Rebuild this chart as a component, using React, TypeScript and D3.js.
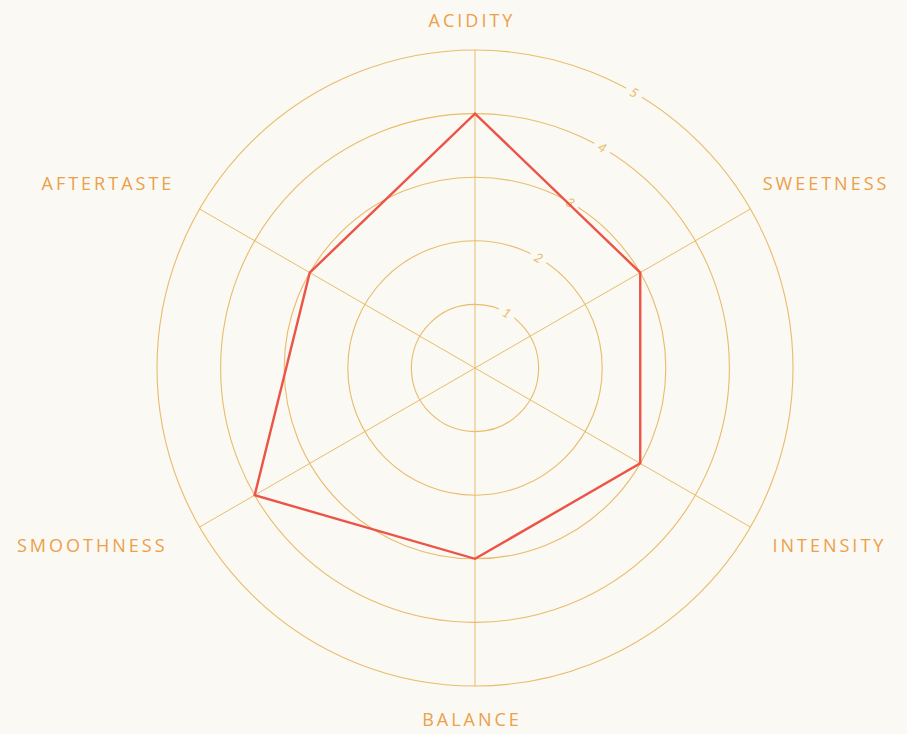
import React from "react";
import * as d3 from "d3";

const axes = ["ACIDITY", "SWEETNESS", "INTENSITY", "BALANCE", "SMOOTHNESS", "AFTERTASTE"];
const values = [4, 3, 3, 3, 4, 3];
const ticks = [1, 2, 3, 4, 5];

const W = 907, H = 734;
const cx = 475, cy = 368, R = 318;
const lineColor = "#E9BC6C";
const labelColor = "#EBA04A";
const dataColor = "#EC5448";
const bg = "#FBF9F3";

export default function App() {
  const r = d3.scaleLinear().domain([0, 5]).range([0, R]);
  const angle = d3.scaleLinear().domain([0, axes.length]).range([0, 2 * Math.PI]);
  const pt = (i: number, v: number): [number, number] => {
    const a = angle(i);
    return [cx + r(v) * Math.sin(a), cy - r(v) * Math.cos(a)];
  };
  const line = d3.line<number>().x((v, i) => pt(i, v)[0]).y((v, i) => pt(i, v)[1]).curve(d3.curveLinearClosed);
  const tickAngle = Math.PI / 6;
  const labelLayout = (i: number) => {
    const ang = angle(i);
    const top = Math.cos(ang) > 0;
    const lr = i === 0 ? 347 : i === 3 ? 352 : top ? 368 : 355;
    let x = cx + lr * Math.sin(ang);
    const y = cy - lr * Math.cos(ang);
    let anchor = "middle";
    if (i === 0 || i === 3) x -= 3;
    else if (Math.sin(ang) > 0) { anchor = "start"; x -= top ? 31 : 10; }
    else { anchor = "end"; x += top ? 18 : 0; }
    return { x, y, anchor };
  };
  return (
    <svg width={W} height={H} style={{ position: "absolute", left: 0, top: 0, background: bg }}>
      <rect width={W} height={H} fill={bg} />
      {ticks.map((t) => (
        <circle key={t} cx={cx} cy={cy} r={r(t)} fill="none" stroke={lineColor} strokeWidth={1.1} />
      ))}
      {axes.map((a, i) => {
        const [x1, y1] = pt(i, 5);
        const [x2, y2] = pt(i + 3, 5);
        return i < 3 ? <line key={a} x1={x1} y1={y1} x2={x2} y2={y2} stroke={lineColor} strokeWidth={1} /> : null;
      })}
      {ticks.map((t) => {
        const x = cx + r(t) * Math.sin(tickAngle);
        const y = cy - r(t) * Math.cos(tickAngle);
        return (
          <g key={"t" + t} transform={`translate(${x},${y}) rotate(30)`}>
            <rect x={-9} y={-9} width={18} height={18} fill={bg} />
            <text textAnchor="middle" dy="0.35em" fontSize={13} fill={lineColor} fontFamily="Lato, sans-serif" fontStyle="italic">{t}</text>
          </g>
        );
      })}
      <path d={line(values) || ""} fill="none" stroke={dataColor} strokeWidth={2.4} strokeLinejoin="miter" />
      {axes.map((a, i) => {
        const { x, y, anchor } = labelLayout(i);
        return (
          <text key={a} x={x} y={y} dy="0.36em" textAnchor={anchor} fontSize={18} letterSpacing="3px" fill={labelColor} fontFamily="'Open Sans', sans-serif">{a}</text>
        );
      })}
    </svg>
  );
}
